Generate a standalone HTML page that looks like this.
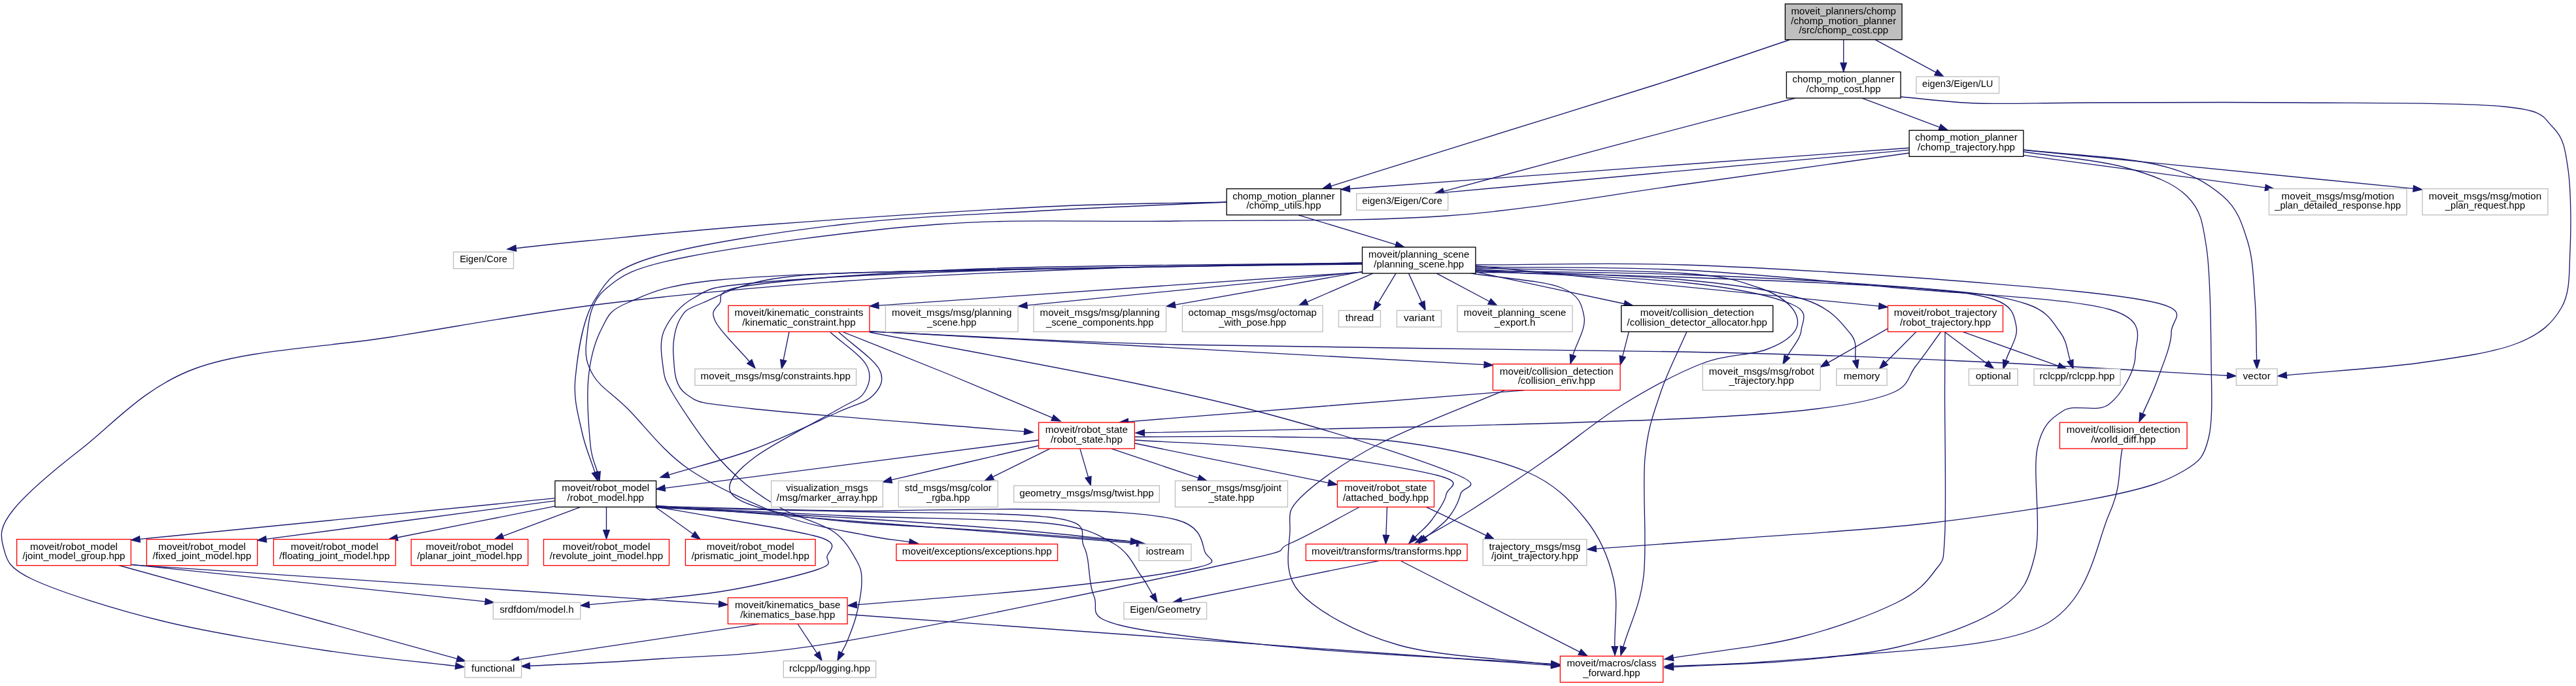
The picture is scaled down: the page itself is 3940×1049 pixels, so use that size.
<!DOCTYPE html>
<html><head><meta charset="utf-8"><title>moveit_planners/chomp/chomp_motion_planner/src/chomp_cost.cpp</title>
<style>html,body{margin:0;padding:0;background:#fff;overflow:hidden}svg{display:block;will-change:transform}text{font-family:"Liberation Sans",sans-serif;font-size:10.3px;fill:#000;text-anchor:middle}.e{fill:none;stroke:#191970;stroke-width:1}.a{fill:#191970;stroke:#191970;stroke-width:1}</style></head><body>
<svg width="3940" height="1049" viewBox="0 0 2955 786.75">
<rect width="100%" height="100%" fill="#fff"/>
<g transform="translate(4 783)">
<path class="e" d="M2110.81,-737.36C2110.81,-729.23 2110.81,-719.7 2110.81,-711.11"/>
<polygon class="a" points="2114.31,-710.89 2110.81,-700.89 2107.31,-710.89 2114.31,-710.89"/>
<path class="e" d="M2048.75,-737.25C1997.25,-720 1955.88,-705.29 1894.25,-685.5C1832.62,-665.71 1740.91,-637.84 1679,-618.52C1617.09,-599.21 1574.86,-585.92 1522.79,-569.61"/>
<polygon class="a" points="1521.75,-572.95 1513.25,-566.62 1523.84,-566.27 1521.75,-572.95"/>
<path class="e" d="M2147.3,-737.36C2169.42,-725.46 2197.07,-710.58 2216.74,-699.99"/>
<polygon class="a" points="2218.43,-702.99 2225.57,-695.17 2215.11,-696.83 2218.43,-702.99"/>
<path class="e" d="M2132.07,-670.4C2161.73,-659.3 2191.38,-648.19 2221.04,-637.09"/>
<polygon class="a" points="2219.81,-633.81 2230.41,-633.58 2222.27,-640.36 2219.81,-633.81"/>
<path class="e" d="M2176.25,-672C2206,-669.5 2228.88,-665.62 2265.5,-664.5C2302.12,-663.38 2334.5,-665.12 2396,-665.25C2457.5,-665.38 2555.75,-666 2634.5,-665.25C2713.25,-664.5 2820.12,-665.5 2868.5,-660.75C2916.88,-656 2912.5,-648.88 2924.75,-636.75C2937,-624.62 2938.75,-611.38 2942,-588C2945.25,-564.62 2945.5,-522.75 2944.25,-496.5C2943,-470.25 2944.62,-448.38 2934.5,-430.5C2924.38,-412.62 2910.75,-399.88 2883.5,-389.25C2856.25,-378.62 2815.09,-372.85 2771,-366.75C2726.91,-360.65 2669.64,-357.36 2618.96,-352.67"/>
<polygon class="a" points="2618.63,-356.16 2609,-351.75 2619.28,-349.19 2618.63,-356.16"/>
<path class="e" d="M2055.5,-670.5C1989.25,-653.17 1924.02,-636.34 1856.75,-618.52C1789.48,-600.71 1720.19,-581.9 1651.91,-563.59"/>
<polygon class="a" points="1651,-566.97 1642.25,-561 1652.82,-560.21 1651,-566.97"/>
<path class="e" d="M2317.25,-609C2356,-603 2402.25,-599.5 2433.5,-591C2464.75,-582.5 2489.12,-573.5 2504.75,-558C2520.38,-542.5 2522.62,-529.25 2527.25,-498C2531.88,-466.75 2532.12,-406.75 2532.5,-370.5C2532.88,-334.25 2534.75,-301.75 2529.5,-280.5C2524.25,-259.25 2520,-254 2501,-243C2482,-232 2464.25,-224.5 2415.5,-214.5C2366.75,-204.5 2280.5,-191.25 2208.5,-183C2136.5,-174.75 2047.09,-169.88 1983.5,-165C1919.91,-160.12 1879.15,-157.48 1826.97,-153.72"/>
<polygon class="a" points="1826.72,-157.21 1817,-153 1827.23,-150.23 1826.72,-157.21"/>
<path class="e" d="M2186,-607.5C2100,-595.5 2016.38,-583.5 1928,-571.5C1839.62,-559.5 1752.75,-542.5 1655.75,-535.5C1558.75,-528.5 1443.25,-531.12 1346,-529.5C1248.75,-527.88 1166,-532.62 1072.25,-525.75C978.5,-518.88 847.25,-500.75 783.5,-488.25C719.75,-475.75 708.88,-466.88 689.75,-450.75C670.62,-434.62 670.88,-408 668.75,-391.5C666.62,-375 669.12,-364.62 677,-351.75C684.88,-338.88 697.88,-332 716,-314.25C734.12,-296.5 755.75,-265.75 785.75,-245.25C815.75,-224.75 862.38,-203.88 896,-191.25C929.62,-178.62 963.65,-174.49 987.5,-169.5C1011.35,-164.51 1021.92,-164.04 1039.12,-161.32"/>
<polygon class="a" points="1038.58,-157.86 1049,-159.75 1039.67,-164.77 1038.58,-157.86"/>
<path class="e" d="M2317.18,-604.97C2409.65,-592.6 2502.12,-580.22 2594.58,-567.85"/>
<polygon class="a" points="2594.12,-564.38 2604.49,-566.52 2595.05,-571.32 2594.12,-564.38"/>
<path class="e" d="M2317.25,-611.25C2368.5,-605.5 2432.88,-602.88 2471,-594C2509.12,-585.12 2528.75,-572.75 2546,-558C2563.25,-543.25 2568.38,-525.38 2574.5,-505.5C2580.62,-485.62 2581.05,-461.33 2582.75,-438.75C2584.45,-416.17 2584.06,-392.91 2584.71,-370"/>
<polygon class="a" points="2581.22,-369.9 2585,-360 2588.21,-370.1 2581.22,-369.9"/>
<path class="e" d="M2317.41,-610.97C2466.41,-596.2 2615.41,-581.43 2764.41,-566.67"/>
<polygon class="a" points="2764.06,-563.18 2774.36,-565.68 2764.75,-570.15 2764.06,-563.18"/>
<path class="e" d="M2185.89,-610.99C2007.68,-594.65 1829.48,-578.31 1651.27,-561.97"/>
<polygon class="a" points="1650.95,-565.46 1641.31,-561.06 1651.59,-558.49 1650.95,-565.46"/>
<path class="e" d="M2185.82,-613.31C1971.98,-597.69 1758.14,-582.07 1544.31,-566.45"/>
<polygon class="a" points="1544.05,-569.94 1534.34,-565.72 1544.56,-562.96 1544.05,-569.94"/>
<path class="e" d="M1403,-551.25C1334,-549.5 1283,-550.25 1196,-546C1109,-541.75 968.5,-532.25 881,-525.75C793.5,-519.25 719.84,-511.58 671,-507C622.16,-502.42 615.63,-501.2 587.95,-498.29"/>
<polygon class="a" points="587.58,-501.77 578,-497.25 588.31,-494.81 587.58,-501.77"/>
<path class="e" d="M1403,-551.25C1334,-548 1269.25,-545.75 1196,-541.5C1122.75,-537.25 1038.5,-534.62 963.5,-525.75C888.5,-516.88 793.5,-502.62 746,-488.25C698.5,-473.88 693.5,-462.62 678.5,-439.5C663.5,-416.38 658.5,-374.75 656,-349.5C653.5,-324.25 659.76,-306.04 663.5,-288C667.24,-269.96 673.47,-256.85 678.45,-241.27"/>
<polygon class="a" points="675.12,-240.21 681.5,-231.75 681.79,-242.34 675.12,-240.21"/>
<path class="e" d="M1485.55,-536.4C1522.77,-525.1 1560,-513.79 1597.23,-502.49"/>
<polygon class="a" points="1596.21,-499.14 1606.8,-499.58 1598.25,-505.83 1596.21,-499.14"/>
<path class="e" d="M748.74,-203.12C932.49,-188.72 1116.23,-174.32 1299.98,-159.92"/>
<polygon class="a" points="1299.71,-156.43 1309.95,-159.14 1300.25,-163.41 1299.71,-156.43"/>
<path class="e" d="M632.69,-208.6C522.23,-193.96 411.78,-179.33 301.32,-164.69"/>
<polygon class="a" points="300.86,-168.16 291.41,-163.38 301.78,-161.22 300.86,-168.16"/>
<path class="e" d="M632.41,-202.35C572.21,-190.39 512,-178.44 451.8,-166.48"/>
<polygon class="a" points="451.12,-169.91 441.99,-164.53 452.48,-163.05 451.12,-169.91"/>
<path class="e" d="M748.25,-201.75C822.5,-198.25 896.38,-194.38 971,-191.25C1045.62,-188.12 1145.62,-188.25 1196,-183C1246.38,-177.75 1255.12,-169.75 1273.25,-159.75C1291.38,-149.75 1297.24,-132.83 1304.75,-123C1312.26,-113.17 1313.78,-108.19 1318.29,-100.79"/>
<polygon class="a" points="1315.31,-98.97 1323.5,-92.25 1321.28,-102.61 1315.31,-98.97"/>
<path class="e" d="M748.25,-201C819.5,-199.5 885.75,-198.5 962,-196.5C1038.25,-194.5 1159.5,-195.75 1205.75,-189C1252,-182.25 1232,-170.88 1239.5,-156C1247,-141.12 1243.88,-114.75 1250.75,-99.75C1257.62,-84.75 1239.88,-76.12 1280.75,-66C1321.62,-55.88 1413.54,-46.4 1496,-39C1578.46,-31.6 1682.35,-27.41 1775.52,-21.62"/>
<polygon class="a" points="1775.3,-18.13 1785.5,-21 1775.74,-25.11 1775.3,-18.13"/>
<path class="e" d="M661.83,-201.4C632.17,-190.3 602.51,-179.19 572.85,-168.09"/>
<polygon class="a" points="571.63,-171.36 563.49,-164.58 574.08,-164.81 571.63,-171.36"/>
<path class="e" d="M632.38,-211.58C473.72,-195.95 315.07,-180.32 156.41,-164.69"/>
<polygon class="a" points="156.07,-168.17 146.46,-163.71 156.75,-161.21 156.07,-168.17"/>
<path class="e" d="M748.25,-202.5C822.5,-200.75 896.38,-197.88 971,-197.25C1045.62,-196.62 1133.5,-200.5 1196,-198.75C1258.5,-197 1315.62,-194.88 1346,-186.75C1376.38,-178.62 1374.5,-159.12 1378.25,-150C1382,-140.88 1398.88,-139 1368.5,-132C1338.12,-125 1260.96,-115.11 1196,-108C1131.04,-100.89 1051.14,-95.57 978.71,-89.35"/>
<polygon class="a" points="978.41,-92.84 968.75,-88.5 979.01,-85.87 978.41,-92.84"/>
<path class="e" d="M748.25,-201.75C772.5,-197.5 789.12,-195 821,-189C852.88,-183 918.88,-173.12 939.5,-165.75C960.12,-158.38 945.75,-150.75 944.75,-144.75C943.75,-138.75 954.12,-136.5 933.5,-129.75C912.88,-123 864.59,-110.96 821,-104.25C777.41,-97.54 721.63,-94.41 671.95,-89.49"/>
<polygon class="a" points="671.61,-92.97 662,-88.5 672.3,-86 671.61,-92.97"/>
<path class="e" d="M691.62,-201.75C691.62,-192.83 691.62,-183.92 691.62,-175"/>
<polygon class="a" points="688.12,-175 691.62,-165 695.12,-175 688.12,-175"/>
<path class="e" d="M747.86,-201.48C762.29,-191.13 776.72,-180.78 791.16,-170.44"/>
<polygon class="a" points="789.12,-167.59 799.28,-164.61 793.19,-173.28 789.12,-167.59"/>
<path class="e" d="M748.25,-201C822.5,-197 902.62,-193.25 971,-189C1039.38,-184.75 1104.78,-179.96 1158.5,-175.5C1212.22,-171.04 1248.37,-166.65 1293.3,-162.23"/>
<polygon class="a" points="1292.96,-158.75 1303.25,-161.25 1293.64,-165.71 1292.96,-158.75"/>
<path class="e" d="M131,-135C260.79,-99.14 390.57,-63.28 520.36,-27.41"/>
<polygon class="a" points="519.43,-24.04 530,-24.75 521.29,-30.79 519.43,-24.04"/>
<path class="e" d="M146.46,-135.29C371.21,-120.24 595.96,-105.18 820.7,-90.13"/>
<polygon class="a" points="820.47,-86.64 830.68,-89.46 820.94,-93.62 820.47,-86.64"/>
<path class="e" d="M146.51,-135.56C281.9,-121.39 417.29,-107.22 552.67,-93.05"/>
<polygon class="a" points="552.31,-89.57 562.62,-92.01 553.04,-96.53 552.31,-89.57"/>
<path class="e" d="M968.19,-78.34C1237.38,-58.87 1506.57,-39.4 1775.77,-19.93"/>
<polygon class="a" points="1775.51,-16.44 1785.74,-19.21 1776.02,-23.42 1775.51,-16.44"/>
<path class="e" d="M867.01,-67.4C775.08,-53.76 683.14,-40.12 591.21,-26.48"/>
<polygon class="a" points="590.7,-29.94 581.32,-25.01 591.72,-23.02 590.7,-29.94"/>
<path class="e" d="M911,-67.5C918.41,-56.28 925.82,-45.06 933.24,-33.84"/>
<polygon class="a" points="930.32,-31.91 938.75,-25.5 936.16,-35.77 930.32,-31.91"/>
<path class="e" d="M1558.25,-480C1412.5,-478 1243.88,-477 1121,-474C998.12,-471 888.5,-468.38 821,-462C753.5,-455.62 738.5,-445.12 716,-435.75C693.5,-426.38 693.5,-420.12 686,-405.75C678.5,-391.38 673.12,-371.62 671,-349.5C668.88,-327.38 671.54,-291.01 673.25,-273C674.96,-254.99 678.61,-251.96 681.28,-241.44"/>
<polygon class="a" points="677.89,-240.58 683.75,-231.75 684.68,-242.3 677.89,-240.58"/>
<path class="e" d="M1688.75,-477C1768.5,-475.75 1847.62,-477.25 1928,-473.25C2008.38,-469.25 2089.75,-460.5 2171,-453C2252.25,-445.5 2369.75,-441.12 2415.5,-428.25C2461.25,-415.38 2445.5,-393.88 2445.5,-375.75C2445.5,-357.62 2429.25,-330.12 2415.5,-319.5C2401.75,-308.88 2376.75,-320.5 2363,-312C2349.25,-303.5 2338.38,-295.75 2333,-268.5C2327.62,-241.25 2337.75,-179 2330.75,-148.5C2323.75,-118 2317.62,-103.5 2291,-85.5C2264.38,-67.5 2216,-50.75 2171,-40.5C2126,-30.25 2063.59,-27.55 2021,-24C1978.41,-20.45 1950.66,-20.8 1915.49,-19.2"/>
<polygon class="a" points="1915.33,-22.7 1905.5,-18.75 1915.65,-15.71 1915.33,-22.7"/>
<path class="e" d="M1558.25,-481.5C1462.5,-479.5 1370.38,-479 1271,-475.5C1171.62,-472 1059.5,-467.38 962,-460.5C864.5,-453.62 772,-444.88 686,-434.25C600,-423.62 523.5,-409 446,-396.75C368.5,-384.5 280.38,-382.12 221,-360.75C161.62,-339.38 124.75,-295.62 89.75,-268.5C54.75,-241.38 26,-216.75 11,-198C-4,-179.25 -4,-169.25 -0.25,-156C3.5,-142.75 2.88,-132.75 33.5,-118.5C64.12,-104.25 127.25,-84.12 183.5,-70.5C239.75,-56.88 315.15,-45.3 371,-36.75C426.85,-28.2 469.38,-25.04 518.57,-19.18"/>
<polygon class="a" points="518.16,-15.71 528.5,-18 518.98,-22.66 518.16,-15.71"/>
<path class="e" d="M1688.75,-472.5C1768.5,-468 1867.62,-465.38 1928,-459C1988.38,-452.62 2028.62,-443.38 2051,-434.25C2073.38,-425.12 2063.08,-414.28 2062.25,-404.25C2061.42,-394.22 2051.41,-384.12 2045.99,-374.05"/>
<polygon class="a" points="2042.91,-375.71 2041.25,-365.25 2049.07,-372.4 2042.91,-375.71"/>
<path class="e" d="M1688.75,-474C1768.5,-470 1865.12,-467.75 1928,-462C1990.88,-456.25 2034.25,-449.75 2066,-439.5C2097.75,-429.25 2108.71,-412.12 2118.5,-400.5C2128.29,-388.88 2122.67,-380.03 2124.75,-369.8"/>
<polygon class="a" points="2121.32,-369.1 2126.75,-360 2128.18,-370.5 2121.32,-369.1"/>
<path class="e" d="M1688.75,-475.5C1768.5,-473.5 1873.88,-473.25 1928,-469.5C1982.12,-465.75 1993,-459.5 2013.5,-453C2034,-446.5 2044,-438.62 2051,-430.5C2058,-422.38 2060.5,-412.38 2055.5,-404.25C2050.5,-396.12 2038.88,-388.12 2021,-381.75C2003.12,-375.38 1975.75,-376.62 1948.25,-366C1920.75,-355.38 1885.25,-336 1856,-318C1826.75,-300 1801.5,-278 1772.75,-258C1744,-238 1707.56,-213.4 1683.5,-198C1659.44,-182.6 1646.75,-176.38 1628.37,-165.57"/>
<polygon class="a" points="1626.59,-168.59 1619.75,-160.5 1630.14,-162.55 1626.59,-168.59"/>
<path class="e" d="M1558.67,-471.05C1430.5,-458.31 1302.34,-445.58 1174.17,-432.84"/>
<polygon class="a" points="1173.83,-436.32 1164.22,-431.85 1174.52,-429.36 1173.83,-436.32"/>
<path class="e" d="M1683.5,-469.5C1718,-464 1765.38,-461.38 1787,-453C1808.62,-444.62 1811.03,-432.15 1813.25,-419.25C1815.47,-406.35 1804.64,-390.14 1800.34,-375.59"/>
<polygon class="a" points="1796.98,-376.58 1797.5,-366 1803.69,-374.6 1796.98,-376.58"/>
<path class="e" d="M1558.25,-480.75C1412.5,-478.25 1231.38,-475.88 1121,-473.25C1010.62,-470.62 949.12,-471.25 896,-465C842.88,-458.75 822.25,-443.75 802.25,-435.75C782.25,-427.75 781.62,-427 776,-417C770.38,-407 767.25,-390.12 768.5,-375.75C769.75,-361.38 768.5,-341 783.5,-330.75C798.5,-320.5 793.91,-321.36 858.5,-314.25C923.09,-307.14 1066.86,-296.81 1171.03,-288.08"/>
<polygon class="a" points="1170.74,-284.6 1181,-287.25 1171.33,-291.57 1170.74,-284.6"/>
<path class="e" d="M1558.63,-471.34C1487.08,-458.69 1415.53,-446.04 1343.97,-433.39"/>
<polygon class="a" points="1343.37,-436.84 1334.13,-431.65 1344.58,-429.94 1343.37,-436.84"/>
<path class="e" d="M1688.75,-472.5C1768.5,-471 1847.62,-471 1928,-468C2008.38,-465 2111.75,-459.25 2171,-454.5C2230.25,-449.75 2260.5,-447.25 2283.5,-439.5C2306.5,-431.75 2306.75,-419.66 2309,-408C2311.25,-396.34 2300.99,-382.36 2296.98,-369.54"/>
<polygon class="a" points="2293.64,-370.59 2294,-360 2300.32,-368.5 2293.64,-370.59"/>
<path class="e" d="M1570.83,-469.48C1545.61,-458.52 1520.39,-447.56 1495.17,-436.6"/>
<polygon class="a" points="1493.78,-439.81 1486,-432.61 1496.57,-433.39 1493.78,-439.81"/>
<path class="e" d="M1597.22,-469.4C1590.4,-458.12 1583.58,-446.85 1576.77,-435.57"/>
<polygon class="a" points="1573.77,-437.38 1571.6,-427.01 1579.76,-433.76 1573.77,-437.38"/>
<path class="e" d="M1688.75,-471C1768.5,-469 1841.38,-468.25 1928,-465C2014.62,-461.75 2143,-456.62 2208.5,-451.5C2274,-446.38 2295.88,-442.5 2321,-434.25C2346.12,-426 2350.94,-412.81 2359.25,-402C2367.56,-391.19 2367.01,-380.28 2370.89,-369.42"/>
<polygon class="a" points="2367.59,-368.24 2374.25,-360 2374.18,-370.59 2367.59,-368.24"/>
<path class="e" d="M1689.03,-471.04C1745.79,-458.91 1802.56,-446.77 1859.32,-434.64"/>
<polygon class="a" points="1858.59,-431.22 1869.1,-432.55 1860.05,-438.06 1858.59,-431.22"/>
<path class="e" d="M1611.97,-469.4C1616.97,-458.37 1621.97,-447.33 1626.97,-436.3"/>
<polygon class="a" points="1623.78,-434.85 1631.1,-427.19 1630.16,-437.74 1623.78,-434.85"/>
<path class="e" d="M1558.69,-470.92C1373.75,-458.17 1188.81,-445.42 1003.87,-432.67"/>
<polygon class="a" points="1003.63,-436.16 993.89,-431.98 1004.11,-429.18 1003.63,-436.16"/>
<path class="e" d="M1558.25,-481.5C1412.5,-479.25 1237.62,-479 1121,-474.75C1004.38,-470.5 908.5,-462.75 858.5,-456C808.5,-449.25 827.88,-441.38 821,-434.25C814.12,-427.12 811.46,-424.23 817.25,-413.25C823.04,-402.27 842.91,-383.31 855.74,-368.34"/>
<polygon class="a" points="853.08,-366.06 862.25,-360.75 858.4,-370.62 853.08,-366.06"/>
<path class="e" d="M1688.75,-479.25C1768.5,-479.25 1835.12,-482.38 1928,-479.25C2020.88,-476.12 2155.75,-467.75 2246,-460.5C2336.25,-453.25 2429.38,-445.5 2469.5,-435.75C2509.62,-426 2486.5,-416.62 2486.75,-402C2487,-387.38 2476.47,-363.59 2471,-348C2465.53,-332.41 2459.64,-321.62 2453.96,-308.43"/>
<polygon class="a" points="2450.74,-309.82 2450,-299.25 2457.17,-307.05 2450.74,-309.82"/>
<path class="e" d="M1644.09,-469.4C1664.24,-458.69 1684.4,-447.98 1704.56,-437.27"/>
<polygon class="a" points="1702.92,-434.18 1713.39,-432.58 1706.2,-440.36 1702.92,-434.18"/>
<path class="e" d="M1688.88,-478C1843.05,-462.63 1997.22,-447.26 2151.38,-431.89"/>
<polygon class="a" points="2151.04,-428.41 2161.34,-430.9 2151.73,-435.37 2151.04,-428.41"/>
<path class="e" d="M1577.52,-139.73C1502.14,-124.52 1426.76,-109.32 1351.38,-94.11"/>
<polygon class="a" points="1350.69,-97.54 1341.58,-92.13 1352.07,-90.68 1350.69,-97.54"/>
<path class="e" d="M1603.25,-139.5C1671.53,-104.76 1739.81,-70.02 1808.09,-35.28"/>
<polygon class="a" points="1806.5,-32.17 1817,-30.75 1809.67,-38.4 1806.5,-32.17"/>
<path class="e" d="M1723.25,-336C1674.25,-315 1615.38,-293.5 1576.25,-273C1537.12,-252.5 1505.25,-229.38 1488.5,-213C1471.75,-196.62 1476,-193 1475.75,-174.75C1475.5,-156.5 1466.38,-125.38 1487,-103.5C1507.62,-81.62 1551.4,-57.29 1599.5,-43.5C1647.6,-29.71 1716.89,-28.35 1775.58,-20.78"/>
<polygon class="a" points="1775.13,-17.31 1785.5,-19.5 1776.03,-24.25 1775.13,-17.31"/>
<path class="e" d="M1743.8,-335.4C1592.58,-323.39 1441.37,-311.38 1290.15,-299.37"/>
<polygon class="a" points="1289.87,-302.86 1280.18,-298.58 1290.43,-295.88 1289.87,-302.86"/>
<path class="e" d="M1187.32,-278.24C1044.47,-259.91 901.62,-241.59 758.77,-223.26"/>
<polygon class="a" points="758.32,-226.73 748.85,-221.99 759.21,-219.79 758.32,-226.73"/>
<path class="e" d="M1298,-282C1351.5,-282 1406.75,-283.12 1458.5,-282C1510.25,-280.88 1560.5,-281.88 1608.5,-275.25C1656.5,-268.62 1712.12,-256.88 1746.5,-242.25C1780.88,-227.62 1798,-208.12 1814.75,-187.5C1831.5,-166.88 1841.4,-142.83 1847,-118.5C1852.6,-94.17 1847.89,-67.17 1848.33,-41.5"/>
<polygon class="a" points="1844.83,-41.44 1848.5,-31.5 1851.83,-41.56 1844.83,-41.44"/>
<path class="e" d="M1298,-278.25C1351.5,-274.75 1400.62,-274.5 1458.5,-267.75C1516.38,-261 1612.5,-246.38 1645.25,-237.75C1678,-229.12 1656.12,-224.5 1655,-216C1653.88,-207.5 1644.46,-194.93 1638.5,-186.75C1632.54,-178.57 1625.65,-173.53 1619.22,-166.92"/>
<polygon class="a" points="1616.71,-169.36 1612.25,-159.75 1621.73,-164.48 1616.71,-169.36"/>
<path class="e" d="M1298,-274.5C1371.98,-259.42 1445.97,-244.33 1519.95,-229.25"/>
<polygon class="a" points="1519.25,-225.82 1529.75,-227.25 1520.65,-232.68 1519.25,-225.82"/>
<path class="e" d="M1187.45,-271.88C1131.16,-258.76 1074.87,-245.64 1018.58,-232.52"/>
<polygon class="a" points="1017.78,-235.93 1008.84,-230.25 1019.37,-229.11 1017.78,-235.93"/>
<path class="e" d="M1200.4,-268.4C1178.49,-257.6 1156.58,-246.8 1134.67,-236"/>
<polygon class="a" points="1133.12,-239.14 1125.7,-231.58 1136.21,-232.86 1133.12,-239.14"/>
<path class="e" d="M1234.91,-268.4C1238.07,-257.53 1241.23,-246.66 1244.39,-235.79"/>
<polygon class="a" points="1241.03,-234.82 1247.18,-226.19 1247.75,-236.77 1241.03,-234.82"/>
<path class="e" d="M1270.93,-268.4C1304.21,-257.19 1337.5,-245.98 1370.78,-234.77"/>
<polygon class="a" points="1369.66,-231.45 1380.26,-231.58 1371.9,-238.09 1369.66,-231.45"/>
<path class="e" d="M1632.02,-201.48C1654.98,-190.62 1677.95,-179.75 1700.92,-168.89"/>
<polygon class="a" points="1699.42,-165.72 1709.95,-164.61 1702.41,-172.05 1699.42,-165.72"/>
<path class="e" d="M1556,-201.75C1529.25,-187.75 1500.38,-170.5 1475.75,-159.75C1451.12,-149 1493.88,-156 1408.25,-137.25C1322.62,-118.5 1072.38,-65.62 962,-47.25C851.62,-28.88 805.71,-31.66 746,-27C686.29,-22.34 651.16,-21.86 603.74,-19.29"/>
<polygon class="a" points="603.55,-22.79 593.75,-18.75 603.92,-15.8 603.55,-22.79"/>
<path class="e" d="M1587.14,-201.4C1586.76,-190.66 1586.37,-179.92 1585.98,-169.18"/>
<polygon class="a" points="1582.49,-169.31 1585.62,-159.19 1589.48,-169.06 1582.49,-169.31"/>
<path class="e" d="M1931,-402.75C1921,-379.5 1909,-357.12 1901,-333C1893,-308.88 1886.25,-293 1883,-258C1879.75,-223 1885.67,-159.15 1881.5,-123C1877.33,-86.85 1865.84,-68.41 1858.01,-41.11"/>
<polygon class="a" points="1854.64,-42.08 1855.25,-31.5 1861.37,-40.15 1854.64,-42.08"/>
<path class="e" d="M1864.49,-402.48C1862.09,-393.09 1859.68,-383.69 1857.27,-374.3"/>
<polygon class="a" points="1853.88,-375.17 1854.79,-364.61 1860.66,-373.43 1853.88,-375.17"/>
<path class="e" d="M948.5,-402C962.25,-389.5 983.25,-376 989.75,-364.5C996.25,-353 993.12,-341.62 987.5,-333C981.88,-324.38 976.75,-325 956,-312.75C935.25,-300.5 883.5,-274.75 863,-259.5C842.5,-244.25 830.62,-231.5 833,-221.25C835.38,-211 854.25,-204.12 877.25,-198C900.25,-191.88 927.88,-188.5 971,-184.5C1014.12,-180.5 1082.29,-177.75 1136,-174C1189.71,-170.25 1240.85,-166.01 1293.28,-162.01"/>
<polygon class="a" points="1293.01,-158.52 1303.25,-161.25 1293.54,-165.5 1293.01,-158.52"/>
<path class="e" d="M993.5,-402.75C1111,-397.75 1190.25,-391.62 1346,-387.75C1501.75,-383.88 1778,-382.62 1928,-379.5C2078,-376.38 2142.16,-373.53 2246,-369C2349.84,-364.47 2449.34,-357.86 2551.01,-352.3"/>
<polygon class="a" points="2550.82,-348.8 2561,-351.75 2551.21,-355.79 2550.82,-348.8"/>
<path class="e" d="M958.25,-402C973.75,-387.75 998.25,-371.38 1004.75,-359.25C1011.25,-347.12 1005.38,-337.5 997.25,-329.25C989.12,-321 979.12,-320.12 956,-309.75C932.88,-299.38 890.65,-278.9 858.5,-267C826.35,-255.1 794.89,-247.92 763.08,-238.37"/>
<polygon class="a" points="762.07,-241.73 753.5,-235.5 764.08,-235.02 762.07,-241.73"/>
<path class="e" d="M1558.25,-481.5C1412.5,-478.5 1237.62,-476.38 1121,-472.5C1004.38,-468.62 913.25,-463.38 858.5,-458.25C803.75,-453.12 809.25,-450.75 792.5,-441.75C775.75,-432.75 764,-417.38 758,-404.25C752,-391.12 755,-374.88 756.5,-363C758,-351.12 757.88,-348.75 767,-333C776.12,-317.25 797.25,-286 811.25,-268.5C825.25,-251 836.88,-239.75 851,-228C865.12,-216.25 879.12,-207.12 896,-198C912.88,-188.88 938.5,-182.88 952.25,-173.25C966,-163.62 973.12,-149.75 978.5,-140.25C983.88,-130.75 984.5,-126.62 984.5,-116.25C984.5,-105.88 981.25,-89.38 978.5,-78C975.75,-66.62 970.88,-55.26 968,-48C965.12,-40.74 963.48,-38.96 961.22,-34.44"/>
<polygon class="a" points="958.09,-36.01 956.75,-25.5 964.35,-32.88 958.09,-36.01"/>
<path class="e" d="M993.5,-402C1098.5,-381.75 1224.75,-359 1308.5,-341.25C1392.25,-323.5 1435.88,-312.75 1496,-295.5C1556.12,-278.25 1640,-250.88 1669.25,-237.75C1698.5,-224.62 1673.5,-224.88 1671.5,-216.75C1669.5,-208.62 1663.99,-197.41 1657.25,-189C1650.51,-180.59 1639.79,-173.87 1631.06,-166.3"/>
<polygon class="a" points="1628.76,-168.94 1623.5,-159.75 1633.35,-163.65 1628.76,-168.94"/>
<path class="e" d="M993.89,-403.03C1228.78,-390.27 1463.66,-377.52 1698.55,-364.76"/>
<polygon class="a" points="1698.36,-361.27 1708.53,-364.22 1698.74,-368.26 1698.36,-361.27"/>
<path class="e" d="M963.5,-402C1003.5,-386 1043.54,-370.36 1083.5,-354C1123.46,-337.64 1163.35,-320.57 1203.28,-303.86"/>
<polygon class="a" points="1201.92,-300.63 1212.5,-300 1204.63,-307.09 1201.92,-300.63"/>
<path class="e" d="M901.22,-402.4C899.03,-391.6 896.83,-380.79 894.64,-369.99"/>
<polygon class="a" points="891.21,-370.69 892.65,-360.19 898.07,-369.29 891.21,-370.69"/>
<path class="e" d="M2430.5,-268.5C2425.5,-243.5 2430.5,-227.25 2415.5,-193.5C2400.5,-159.75 2393.75,-93.38 2340.5,-66C2287.25,-38.62 2166.84,-37.27 2096,-29.25C2025.16,-21.23 1975.65,-21.67 1915.48,-17.88"/>
<polygon class="a" points="1915.26,-21.37 1905.5,-17.25 1915.7,-14.39 1915.26,-21.37"/>
<path class="e" d="M2227.25,-402.75C2227.12,-379.5 2226.94,-372.12 2226.88,-333C2226.81,-293.88 2228.69,-202 2226.88,-168C2225.06,-134 2225.31,-141.75 2216,-129C2206.69,-116.25 2197.25,-104.38 2171,-91.5C2144.75,-78.62 2101.1,-62.23 2058.5,-51.75C2015.9,-41.27 1963.08,-36.31 1915.37,-28.6"/>
<polygon class="a" points="1914.81,-32.05 1905.5,-27 1915.93,-25.14 1914.81,-32.05"/>
<path class="e" d="M2161.26,-406.06C2138.49,-393.07 2115.71,-380.08 2092.93,-367.08"/>
<polygon class="a" points="2091.2,-370.12 2084.25,-362.13 2094.67,-364.04 2091.2,-370.12"/>
<path class="e" d="M2193.99,-402.4C2182.32,-390.64 2170.64,-378.87 2158.96,-367.11"/>
<polygon class="a" points="2156.48,-369.57 2151.91,-360.01 2161.44,-364.64 2156.48,-369.57"/>
<path class="e" d="M2222,-402C2212.5,-389 2202.5,-374.5 2193.5,-363C2184.5,-351.5 2186.75,-341.12 2168,-333C2149.25,-324.88 2121,-319.25 2081,-314.25C2041,-309.25 2000.5,-306.38 1928,-303C1855.5,-299.62 1749.21,-296.71 1646,-294C1542.79,-291.29 1421.17,-289.14 1308.75,-286.72"/>
<polygon class="a" points="1308.67,-290.22 1298.75,-286.5 1308.82,-283.22 1308.67,-290.22"/>
<path class="e" d="M2226.76,-402.4C2242.87,-390.33 2258.98,-378.26 2275.1,-366.19"/>
<polygon class="a" points="2273,-363.38 2283.1,-360.19 2277.2,-368.99 2273,-363.38"/>
<path class="e" d="M2247.59,-402.4C2284.15,-389.39 2320.72,-376.38 2357.29,-363.36"/>
<polygon class="a" points="2356.12,-360.07 2366.71,-360.01 2358.46,-366.66 2356.12,-360.07"/>
<rect x="2043.81" y="-778.5" width="134" height="41" fill="#bfbfbf" stroke="#000" stroke-width="1"/>
<text x="2110.81" y="-766.5" textLength="120.45" lengthAdjust="spacingAndGlyphs">moveit_planners/chomp</text>
<text x="2110.81" y="-755.5" textLength="120.62" lengthAdjust="spacingAndGlyphs">/chomp_motion_planner</text>
<text x="2110.81" y="-744.5" textLength="102.5" lengthAdjust="spacingAndGlyphs">/src/chomp_cost.cpp</text>
<rect x="2045.31" y="-700.5" width="131" height="30" fill="#fff" stroke="#000" stroke-width="1"/>
<text x="2110.81" y="-688.5" textLength="117.25" lengthAdjust="spacingAndGlyphs">chomp_motion_planner</text>
<text x="2110.81" y="-677.5" textLength="85.37" lengthAdjust="spacingAndGlyphs">/chomp_cost.hpp</text>
<rect x="1403.12" y="-566.5" width="131" height="30" fill="#fff" stroke="#000" stroke-width="1"/>
<text x="1468.62" y="-554.5" textLength="117.25" lengthAdjust="spacingAndGlyphs">chomp_motion_planner</text>
<text x="1468.62" y="-543.5" textLength="85.65" lengthAdjust="spacingAndGlyphs">/chomp_utils.hpp</text>
<rect x="2194.19" y="-695" width="95" height="19" fill="#fff" stroke="#bfbfbf" stroke-width="1"/>
<text x="2241.69" y="-683" textLength="81.2" lengthAdjust="spacingAndGlyphs">eigen3/Eigen/LU</text>
<rect x="2186.12" y="-633.5" width="131" height="30" fill="#fff" stroke="#000" stroke-width="1"/>
<text x="2251.62" y="-621.5" textLength="117.25" lengthAdjust="spacingAndGlyphs">chomp_motion_planner</text>
<text x="2251.62" y="-610.5" textLength="111.86" lengthAdjust="spacingAndGlyphs">/chomp_trajectory.hpp</text>
<rect x="2561.31" y="-360" width="47" height="19" fill="#fff" stroke="#bfbfbf" stroke-width="1"/>
<text x="2584.81" y="-348" textLength="31.72" lengthAdjust="spacingAndGlyphs">vector</text>
<rect x="1552.06" y="-561" width="105" height="19" fill="#fff" stroke="#bfbfbf" stroke-width="1"/>
<text x="1604.56" y="-549" textLength="91.95" lengthAdjust="spacingAndGlyphs">eigen3/Eigen/Core</text>
<rect x="1697.12" y="-164.5" width="119" height="30" fill="#fff" stroke="#bfbfbf" stroke-width="1"/>
<text x="1756.62" y="-152.5" textLength="104.83" lengthAdjust="spacingAndGlyphs">trajectory_msgs/msg</text>
<text x="1756.62" y="-141.5" textLength="99.75" lengthAdjust="spacingAndGlyphs">/joint_trajectory.hpp</text>
<rect x="1302.5" y="-159" width="60" height="19" fill="#fff" stroke="#bfbfbf" stroke-width="1"/>
<text x="1332.5" y="-147" textLength="43.94" lengthAdjust="spacingAndGlyphs">iostream</text>
<rect x="2598.81" y="-566.5" width="158" height="30" fill="#fff" stroke="#bfbfbf" stroke-width="1"/>
<text x="2677.81" y="-554.5" textLength="129.19" lengthAdjust="spacingAndGlyphs">moveit_msgs/msg/motion</text>
<text x="2677.81" y="-543.5" textLength="144.83" lengthAdjust="spacingAndGlyphs">_plan_detailed_response.hpp</text>
<rect x="2774.75" y="-566.5" width="144" height="30" fill="#fff" stroke="#bfbfbf" stroke-width="1"/>
<text x="2846.75" y="-554.5" textLength="129.19" lengthAdjust="spacingAndGlyphs">moveit_msgs/msg/motion</text>
<text x="2846.75" y="-543.5" textLength="91.82" lengthAdjust="spacingAndGlyphs">_plan_request.hpp</text>
<rect x="516.12" y="-494" width="69" height="19" fill="#fff" stroke="#bfbfbf" stroke-width="1"/>
<text x="550.62" y="-482" textLength="54.45" lengthAdjust="spacingAndGlyphs">Eigen/Core</text>
<rect x="632.69" y="-231.5" width="116" height="30" fill="#fff" stroke="#000" stroke-width="1"/>
<text x="690.69" y="-219.5" textLength="100.53" lengthAdjust="spacingAndGlyphs">moveit/robot_model</text>
<text x="690.69" y="-208.5" textLength="88.12" lengthAdjust="spacingAndGlyphs">/robot_model.hpp</text>
<rect x="1558.69" y="-499.5" width="130" height="30" fill="#fff" stroke="#000" stroke-width="1"/>
<text x="1623.69" y="-487.5" textLength="115.74" lengthAdjust="spacingAndGlyphs">moveit/planning_scene</text>
<text x="1623.69" y="-476.5" textLength="103.33" lengthAdjust="spacingAndGlyphs">/planning_scene.hpp</text>
<rect x="164.25" y="-164.5" width="127" height="30" fill="#fff" stroke="#f00" stroke-width="1"/>
<text x="227.75" y="-152.5" textLength="100.53" lengthAdjust="spacingAndGlyphs">moveit/robot_model</text>
<text x="227.75" y="-141.5" textLength="113.06" lengthAdjust="spacingAndGlyphs">/fixed_joint_model.hpp</text>
<rect x="309.81" y="-164.5" width="140" height="30" fill="#fff" stroke="#f00" stroke-width="1"/>
<text x="379.81" y="-152.5" textLength="100.53" lengthAdjust="spacingAndGlyphs">moveit/robot_model</text>
<text x="379.81" y="-141.5" textLength="126.58" lengthAdjust="spacingAndGlyphs">/floating_joint_model.hpp</text>
<rect x="1285.19" y="-92" width="95" height="19" fill="#fff" stroke="#bfbfbf" stroke-width="1"/>
<text x="1332.69" y="-80" textLength="81.17" lengthAdjust="spacingAndGlyphs">Eigen/Geometry</text>
<rect x="1785.75" y="-30.5" width="118" height="30" fill="#fff" stroke="#f00" stroke-width="1"/>
<text x="1844.75" y="-18.5" textLength="102.78" lengthAdjust="spacingAndGlyphs">moveit/macros/class</text>
<text x="1844.75" y="-7.5" textLength="65.55" lengthAdjust="spacingAndGlyphs">_forward.hpp</text>
<rect x="467.69" y="-164.5" width="134" height="30" fill="#fff" stroke="#f00" stroke-width="1"/>
<text x="534.69" y="-152.5" textLength="100.53" lengthAdjust="spacingAndGlyphs">moveit/robot_model</text>
<text x="534.69" y="-141.5" textLength="120.48" lengthAdjust="spacingAndGlyphs">/planar_joint_model.hpp</text>
<rect x="15.25" y="-164.5" width="131" height="30" fill="#fff" stroke="#f00" stroke-width="1"/>
<text x="80.75" y="-152.5" textLength="100.53" lengthAdjust="spacingAndGlyphs">moveit/robot_model</text>
<text x="80.75" y="-141.5" textLength="117.7" lengthAdjust="spacingAndGlyphs">/joint_model_group.hpp</text>
<rect x="831.06" y="-97.5" width="137" height="30" fill="#fff" stroke="#f00" stroke-width="1"/>
<text x="899.56" y="-85.5" textLength="121.17" lengthAdjust="spacingAndGlyphs">moveit/kinematics_base</text>
<text x="899.56" y="-74.5" textLength="108.75" lengthAdjust="spacingAndGlyphs">/kinematics_base.hpp</text>
<rect x="561.75" y="-92" width="100" height="19" fill="#fff" stroke="#bfbfbf" stroke-width="1"/>
<text x="611.75" y="-80" textLength="85.25" lengthAdjust="spacingAndGlyphs">srdfdom/model.h</text>
<rect x="619.62" y="-164.5" width="144" height="30" fill="#fff" stroke="#f00" stroke-width="1"/>
<text x="691.62" y="-152.5" textLength="100.53" lengthAdjust="spacingAndGlyphs">moveit/robot_model</text>
<text x="691.62" y="-141.5" textLength="129.92" lengthAdjust="spacingAndGlyphs">/revolute_joint_model.hpp</text>
<rect x="782.31" y="-164.5" width="149" height="30" fill="#fff" stroke="#f00" stroke-width="1"/>
<text x="856.81" y="-152.5" textLength="100.53" lengthAdjust="spacingAndGlyphs">moveit/robot_model</text>
<text x="856.81" y="-141.5" textLength="135.17" lengthAdjust="spacingAndGlyphs">/prismatic_joint_model.hpp</text>
<rect x="1024.19" y="-159" width="185" height="19" fill="#fff" stroke="#f00" stroke-width="1"/>
<text x="1116.69" y="-147" textLength="171.75" lengthAdjust="spacingAndGlyphs">moveit/exceptions/exceptions.hpp</text>
<rect x="529.19" y="-25" width="65" height="19" fill="#fff" stroke="#bfbfbf" stroke-width="1"/>
<text x="561.69" y="-13" textLength="49.75" lengthAdjust="spacingAndGlyphs">functional</text>
<rect x="894.75" y="-25" width="106" height="19" fill="#fff" stroke="#bfbfbf" stroke-width="1"/>
<text x="947.75" y="-13" textLength="93" lengthAdjust="spacingAndGlyphs">rclcpp/logging.hpp</text>
<rect x="1949.19" y="-365.5" width="135" height="30" fill="#fff" stroke="#bfbfbf" stroke-width="1"/>
<text x="2016.69" y="-353.5" textLength="120.57" lengthAdjust="spacingAndGlyphs">moveit_msgs/msg/robot</text>
<text x="2016.69" y="-342.5" textLength="74.45" lengthAdjust="spacingAndGlyphs">_trajectory.hpp</text>
<rect x="2102.62" y="-360" width="58" height="19" fill="#fff" stroke="#bfbfbf" stroke-width="1"/>
<text x="2131.62" y="-348" textLength="41.78" lengthAdjust="spacingAndGlyphs">memory</text>
<rect x="1494.06" y="-159" width="185" height="19" fill="#fff" stroke="#f00" stroke-width="1"/>
<text x="1586.56" y="-147" textLength="172.04" lengthAdjust="spacingAndGlyphs">moveit/transforms/transforms.hpp</text>
<rect x="1011.81" y="-432.5" width="152" height="30" fill="#fff" stroke="#bfbfbf" stroke-width="1"/>
<text x="1087.81" y="-420.5" textLength="137.57" lengthAdjust="spacingAndGlyphs">moveit_msgs/msg/planning</text>
<text x="1087.81" y="-409.5" textLength="56.56" lengthAdjust="spacingAndGlyphs">_scene.hpp</text>
<rect x="1708.56" y="-365.5" width="146" height="30" fill="#fff" stroke="#f00" stroke-width="1"/>
<text x="1781.56" y="-353.5" textLength="130.62" lengthAdjust="spacingAndGlyphs">moveit/collision_detection</text>
<text x="1781.56" y="-342.5" textLength="88.61" lengthAdjust="spacingAndGlyphs">/collision_env.hpp</text>
<rect x="1187.5" y="-298.5" width="110" height="30" fill="#fff" stroke="#f00" stroke-width="1"/>
<text x="1242.5" y="-286.5" textLength="94.73" lengthAdjust="spacingAndGlyphs">moveit/robot_state</text>
<text x="1242.5" y="-275.5" textLength="82.31" lengthAdjust="spacingAndGlyphs">/robot_state.hpp</text>
<rect x="1181.69" y="-432.5" width="152" height="30" fill="#fff" stroke="#bfbfbf" stroke-width="1"/>
<text x="1257.69" y="-420.5" textLength="137.57" lengthAdjust="spacingAndGlyphs">moveit_msgs/msg/planning</text>
<text x="1257.69" y="-409.5" textLength="123.35" lengthAdjust="spacingAndGlyphs">_scene_components.hpp</text>
<rect x="2254.56" y="-360" width="56" height="19" fill="#fff" stroke="#bfbfbf" stroke-width="1"/>
<text x="2282.56" y="-348" textLength="40.53" lengthAdjust="spacingAndGlyphs">optional</text>
<rect x="1352.31" y="-432.5" width="161" height="30" fill="#fff" stroke="#bfbfbf" stroke-width="1"/>
<text x="1432.81" y="-420.5" textLength="147.29" lengthAdjust="spacingAndGlyphs">octomap_msgs/msg/octomap</text>
<text x="1432.81" y="-409.5" textLength="77.26" lengthAdjust="spacingAndGlyphs">_with_pose.hpp</text>
<rect x="1531.62" y="-427" width="48" height="19" fill="#fff" stroke="#bfbfbf" stroke-width="1"/>
<text x="1555.62" y="-415" textLength="32.78" lengthAdjust="spacingAndGlyphs">thread</text>
<rect x="2329.25" y="-360" width="99" height="19" fill="#fff" stroke="#bfbfbf" stroke-width="1"/>
<text x="2378.75" y="-348" textLength="86.31" lengthAdjust="spacingAndGlyphs">rclcpp/rclcpp.hpp</text>
<rect x="1855.81" y="-432.5" width="174" height="30" fill="#fff" stroke="#000" stroke-width="1"/>
<text x="1942.81" y="-420.5" textLength="130.62" lengthAdjust="spacingAndGlyphs">moveit/collision_detection</text>
<text x="1942.81" y="-409.5" textLength="160.86" lengthAdjust="spacingAndGlyphs">/collision_detector_allocator.hpp</text>
<rect x="1598.38" y="-427" width="51" height="19" fill="#fff" stroke="#bfbfbf" stroke-width="1"/>
<text x="1623.88" y="-415" textLength="35.32" lengthAdjust="spacingAndGlyphs">variant</text>
<rect x="831.5" y="-432.5" width="162" height="30" fill="#fff" stroke="#f00" stroke-width="1"/>
<text x="912.5" y="-420.5" textLength="147.69" lengthAdjust="spacingAndGlyphs">moveit/kinematic_constraints</text>
<text x="912.5" y="-409.5" textLength="130.07" lengthAdjust="spacingAndGlyphs">/kinematic_constraint.hpp</text>
<rect x="793.19" y="-360" width="185" height="19" fill="#fff" stroke="#bfbfbf" stroke-width="1"/>
<text x="885.69" y="-348" textLength="171.95" lengthAdjust="spacingAndGlyphs">moveit_msgs/msg/constraints.hpp</text>
<rect x="2358.81" y="-298.5" width="146" height="30" fill="#fff" stroke="#f00" stroke-width="1"/>
<text x="2431.81" y="-286.5" textLength="130.62" lengthAdjust="spacingAndGlyphs">moveit/collision_detection</text>
<text x="2431.81" y="-275.5" textLength="74.13" lengthAdjust="spacingAndGlyphs">/world_diff.hpp</text>
<rect x="1667.75" y="-432.5" width="132" height="30" fill="#fff" stroke="#bfbfbf" stroke-width="1"/>
<text x="1733.75" y="-420.5" textLength="117.38" lengthAdjust="spacingAndGlyphs">moveit_planning_scene</text>
<text x="1733.75" y="-409.5" textLength="46.91" lengthAdjust="spacingAndGlyphs">_export.h</text>
<rect x="2161.62" y="-432.5" width="132" height="30" fill="#fff" stroke="#f00" stroke-width="1"/>
<text x="2227.62" y="-420.5" textLength="118.05" lengthAdjust="spacingAndGlyphs">moveit/robot_trajectory</text>
<text x="2227.62" y="-409.5" textLength="104.21" lengthAdjust="spacingAndGlyphs">/robot_trajectory.hpp</text>
<rect x="1530.12" y="-231.5" width="111" height="30" fill="#fff" stroke="#f00" stroke-width="1"/>
<text x="1585.62" y="-219.5" textLength="94.73" lengthAdjust="spacingAndGlyphs">moveit/robot_state</text>
<text x="1585.62" y="-208.5" textLength="98.33" lengthAdjust="spacingAndGlyphs">/attached_body.hpp</text>
<rect x="880.75" y="-231.5" width="128" height="30" fill="#fff" stroke="#bfbfbf" stroke-width="1"/>
<text x="944.75" y="-219.5" textLength="93.97" lengthAdjust="spacingAndGlyphs">visualization_msgs</text>
<text x="944.75" y="-208.5" textLength="115.72" lengthAdjust="spacingAndGlyphs">/msg/marker_array.hpp</text>
<rect x="1026.69" y="-231.5" width="114" height="30" fill="#fff" stroke="#bfbfbf" stroke-width="1"/>
<text x="1083.69" y="-219.5" textLength="99.65" lengthAdjust="spacingAndGlyphs">std_msgs/msg/color</text>
<text x="1083.69" y="-208.5" textLength="49.97" lengthAdjust="spacingAndGlyphs">_rgba.hpp</text>
<rect x="1159" y="-226" width="167" height="19" fill="#fff" stroke="#bfbfbf" stroke-width="1"/>
<text x="1242.5" y="-214" textLength="154.23" lengthAdjust="spacingAndGlyphs">geometry_msgs/msg/twist.hpp</text>
<rect x="1344.12" y="-231.5" width="129" height="30" fill="#fff" stroke="#bfbfbf" stroke-width="1"/>
<text x="1408.62" y="-219.5" textLength="114.62" lengthAdjust="spacingAndGlyphs">sensor_msgs/msg/joint</text>
<text x="1408.62" y="-208.5" textLength="52.54" lengthAdjust="spacingAndGlyphs">_state.hpp</text>
</g></svg></body></html>
